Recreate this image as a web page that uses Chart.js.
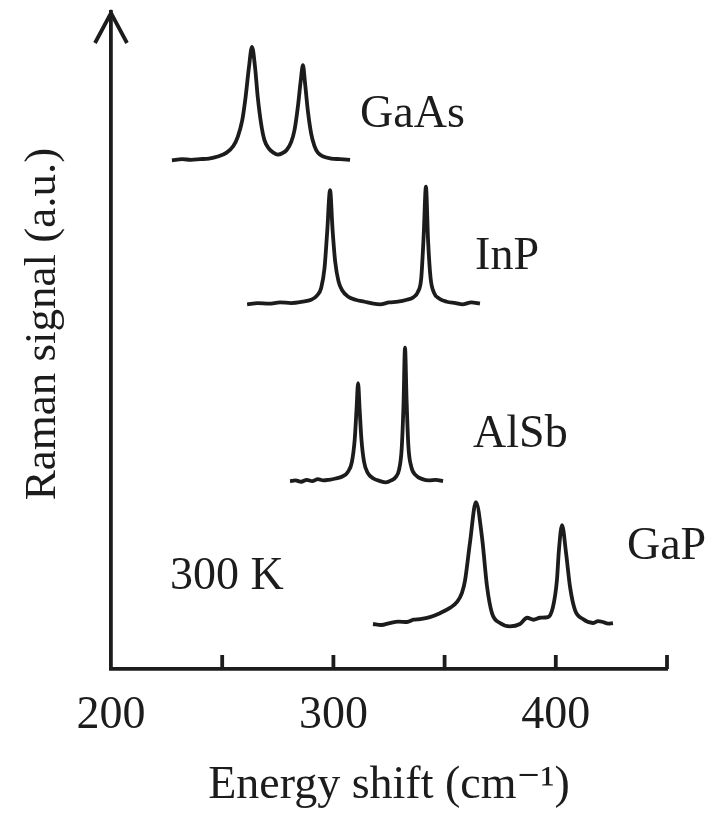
<!DOCTYPE html>
<html>
<head>
<meta charset="utf-8">
<script src="https://cdn.jsdelivr.net/npm/chart.js@4.4.1/dist/chart.umd.min.js"></script>
<style>
  html, body { margin: 0; padding: 0; background: #fff; }
  #wrap { width: 722px; height: 814px; }
</style>
</head>
<body>
<div id="wrap"><canvas id="ramanChart" width="722" height="814"></canvas></div>
<script>
// Raman spectra at 300 K, stacked with vertical offsets (signal in a.u.)
const gaasShift  = [227.4, 232, 236, 240, 244, 248, 252, 255, 257, 259, 260.5, 262, 263.4, 264.8, 266, 267.5, 269, 271, 273, 275, 277, 279, 281, 282.5, 284, 285.3, 286.3, 287.3, 288.5, 290, 291.5, 293, 295.5, 299, 303, 307.5];
const gaasSignal = [77.4, 77.6, 77.5, 77.6, 77.7, 78.0, 78.6, 79.6, 81.0, 83.5, 87.0, 91.5, 94.7, 91.5, 87.0, 83.0, 80.5, 79.2, 78.6, 78.3, 78.5, 79.0, 80.2, 82.0, 85.5, 89.5, 91.9, 89.0, 85.0, 81.5, 79.6, 78.6, 78.0, 77.7, 77.6, 77.5];

const inpShift  = [261.2, 266, 271, 276, 281, 286, 290, 292.5, 294.5, 296, 297.2, 298.5, 299.6, 300.8, 302.3, 304, 306.5, 310, 314, 318, 321, 325, 329, 333, 336, 338, 339.5, 340.6, 341.6, 342.6, 343.7, 345.2, 347.5, 351, 355, 358, 362, 365.9];
const inpSignal = [55.5, 55.7, 55.6, 55.8, 55.7, 55.9, 56.2, 56.8, 58.0, 61.0, 66.5, 72.9, 67.0, 62.0, 59.0, 57.6, 56.7, 56.2, 55.9, 55.6, 55.5, 55.8, 55.9, 56.2, 56.6, 57.4, 59.5, 66.0, 73.4, 65.0, 59.5, 57.3, 56.4, 55.9, 55.7, 55.5, 55.8, 55.6];

const alsbShift  = [280.5, 283, 285.5, 288, 290.5, 293, 295.5, 298, 301, 304, 306.5, 308.3, 309.6, 310.4, 311.1, 311.8, 312.6, 313.8, 315.5, 318, 321, 323.5, 326, 328, 329.5, 330.7, 331.5, 332.2, 332.9, 333.7, 335, 337, 340, 343, 346, 349.3];
const alsbSignal = [28.6, 28.7, 28.5, 28.8, 28.6, 28.9, 28.7, 28.8, 29.0, 29.3, 30.0, 31.5, 35.0, 39.5, 43.5, 39.5, 35.0, 31.5, 29.8, 29.0, 28.6, 28.4, 28.7, 29.2, 30.3, 33.5, 40.0, 48.9, 41.0, 34.0, 30.8, 29.5, 28.9, 28.7, 28.8, 28.6];

const gapShift  = [317.8, 321.5, 325.4, 329.2, 333.1, 336.0, 338.9, 343.4, 347.9, 352.4, 355.6, 357.8, 359.2, 361.4, 364.1, 366.8, 369.1, 371.3, 374.9, 379.4, 383.9, 387.1, 390.0, 392.9, 396.5, 398.7, 400.5, 401.4, 402.8, 404.6, 406.4, 408.6, 412.2, 416.7, 419.0, 421.2, 423.5, 425.7];
const gapSignal = [6.85, 6.7, 7.0, 7.2, 7.15, 7.5, 7.6, 7.9, 8.5, 9.3, 10.2, 11.6, 13.5, 19.2, 25.4, 20.1, 12.5, 8.5, 7.0, 6.5, 6.85, 7.8, 7.5, 7.8, 7.9, 9.4, 13.5, 18.1, 21.9, 17.7, 12.5, 9.0, 7.6, 7.0, 7.3, 7.15, 6.9, 7.0];

const spectra = [
  { name: 'GaAs', shift: gaasShift, signal: gaasSignal },
  { name: 'InP',  shift: inpShift,  signal: inpSignal },
  { name: 'AlSb', shift: alsbShift, signal: alsbSignal },
  { name: 'GaP',  shift: gapShift,  signal: gapSignal }
];

// text placed next to each trace, anchored in axis units
const tags = [
  { text: 'GaAs',  shift: 312.0, signal: 82.5 },
  { text: 'InP',   shift: 363.7, signal: 60.9 },
  { text: 'AlSb',  shift: 362.8, signal: 33.8 },
  { text: 'GaP',   shift: 432.0, signal: 16.7 },
  { text: '300 K', shift: 226.5, signal: 12.2 }
];

const xTicksLabelled = [200, 300, 400];

const ink = '#1c1c1c';
const serif = "'Liberation Serif', 'DejaVu Serif', serif";

const axisDecor = {
  id: 'axisDecor',
  afterDraw(chart) {
    const { ctx, chartArea, scales: { x, y } } = chart;
    ctx.save();
    ctx.strokeStyle = ink;
    ctx.lineWidth = 3.8;
    ctx.lineCap = 'butt';
    ctx.lineJoin = 'miter';

    // tick marks stand up from the energy axis
    x.ticks.forEach(t => {
      if (t.value === x.min) return;
      const px = x.getPixelForValue(t.value);
      ctx.beginPath();
      ctx.moveTo(px, chartArea.bottom);
      ctx.lineTo(px, chartArea.bottom - 14);
      ctx.stroke();
    });

    // open arrow head on the signal axis
    const ax = chartArea.left;
    const ay = chartArea.top;
    ctx.beginPath();
    ctx.moveTo(ax - 16, ay + 31);
    ctx.lineTo(ax, ay + 1);
    ctx.lineTo(ax + 16, ay + 31);
    ctx.stroke();

    // trace names and temperature
    ctx.fillStyle = ink;
    ctx.font = '46px ' + serif;
    ctx.textAlign = 'left';
    ctx.textBaseline = 'alphabetic';
    tags.forEach(tag => {
      ctx.fillText(tag.text, x.getPixelForValue(tag.shift), y.getPixelForValue(tag.signal));
    });

    // vertical axis title
    ctx.translate(43, y.getPixelForValue(52.5));
    ctx.rotate(-Math.PI / 2);
    ctx.font = '45px ' + serif;
    ctx.textAlign = 'center';
    ctx.textBaseline = 'middle';
    ctx.fillText('Raman signal (a.u.)', 0, 0);
    ctx.restore();
  }
};

const ctx = document.getElementById('ramanChart').getContext('2d');

new Chart(ctx, {
  type: 'line',
  data: {
    datasets: spectra.map(s => ({
      label: s.name,
      data: s.shift.map((v, i) => ({ x: v, y: s.signal[i] })),
      borderColor: ink,
      borderWidth: 3.8,
      pointRadius: 0,
      fill: false,
      cubicInterpolationMode: 'monotone'
    }))
  },
  options: {
    responsive: false,
    animation: false,
    layout: { padding: { top: 12, right: 55, bottom: 0, left: 0 } },
    plugins: {
      legend: { display: false },
      tooltip: { enabled: false }
    },
    scales: {
      x: {
        type: 'linear',
        min: 200,
        max: 450,
        grid: { display: false },
        border: { display: true, color: ink, width: 3.8 },
        ticks: {
          stepSize: 50,
          padding: 11,
          color: ink,
          font: { family: serif, size: 46 },
          maxRotation: 0,
          autoSkip: false,
          callback: v => xTicksLabelled.includes(v) ? String(v) : ''
        },
        title: {
          display: true,
          text: 'Energy shift (cm⁻¹)',
          color: ink,
          font: { family: serif, size: 46 },
          padding: { top: 0, bottom: 0 }
        },
        afterFit: scale => { scale.height = 145; }
      },
      y: {
        type: 'linear',
        min: 0,
        max: 100,
        grid: { display: false },
        border: { display: true, color: ink, width: 3.8 },
        ticks: { display: false },
        afterFit: scale => { scale.width = 111; }
      }
    }
  },
  plugins: [axisDecor]
});
</script>
</body>
</html>
